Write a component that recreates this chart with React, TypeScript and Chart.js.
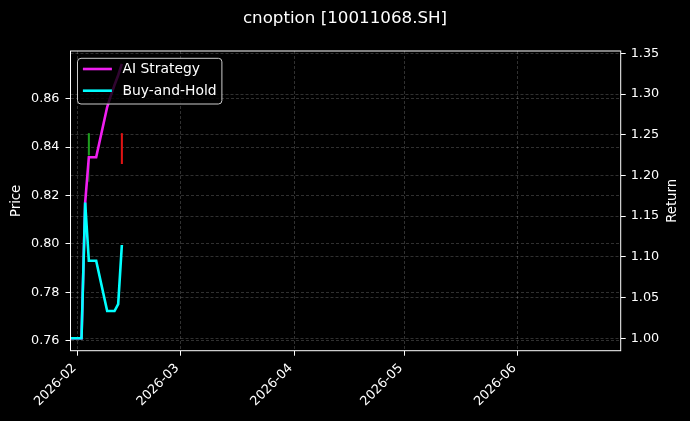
import React, { useEffect, useRef } from "react";
import { Chart, registerables } from "chart.js";

Chart.register(...registerables);

// ---- data ----
const titleText = "cnoption [10011068.SH]";
const dates = [
  "2026-01-30", "2026-02-02", "2026-02-03", "2026-02-04", "2026-02-05", "2026-02-06",
  "2026-02-09", "2026-02-10", "2026-02-11", "2026-02-12", "2026-02-13",
];
const aiStrategy = [1.0, 1.0, 1.1666, 1.2224, 1.2224, 1.2224, 1.284, 1.298, 1.311, 1.323, 1.337];
const buyAndHold = [1.0, 1.0, 1.1666, 1.0953, 1.0953, 1.0953, 1.0335, 1.0335, 1.0335, 1.042, 1.1146];

const candleDates = ["2026-02-04", "2026-02-13"];
const candleOpen = [0.8367, 0.8457];
const candleHigh = [0.8457, 0.8457];
const candleLow = [0.8257, 0.833];
const candleClose = [0.8457, 0.833];

const xTickLabels = ["2026-02", "2026-03", "2026-04", "2026-05", "2026-06"];
const priceTicks = [0.76, 0.78, 0.8, 0.82, 0.84, 0.86];
const returnTicks = [1.0, 1.05, 1.1, 1.15, 1.2, 1.25, 1.3, 1.35];
const xRange = ["2026-01-30", "2026-06-29"];
const priceRange = [0.7559, 0.8797];
const returnRange = [0.9848, 1.3528];

// ---- helpers ----
const toDay = (s: string) => {
  const [y, m, d] = s.split("-").map(Number);
  return Date.UTC(y, m - 1, d) / 86400000;
};

const FONT = "DejaVu Sans";
const gridColor = "rgba(255,255,255,0.24)";
const UP = "#1e9e1e";
const DOWN = "#e01414";

export default function App() {
  const ref = useRef<HTMLCanvasElement | null>(null);

  useEffect(() => {
    if (!ref.current) return;

    const isUp = candleDates.map((_, i) => candleClose[i] >= candleOpen[i]);
    const candleColors = isUp.map((u) => (u ? UP : DOWN));

    const decor = {
      id: "decor",
      beforeDraw(chart: any) {
        const { ctx } = chart;
        ctx.save();
        ctx.fillStyle = "#000";
        ctx.fillRect(0, 0, chart.width, chart.height);
        ctx.restore();
      },
      afterDraw(chart: any) {
        const { ctx, chartArea: ca } = chart;
        ctx.save();
        // frame
        ctx.strokeStyle = "#fff";
        ctx.lineWidth = 1;
        ctx.setLineDash([]);
        ctx.strokeRect(ca.left, ca.top, ca.right - ca.left, ca.bottom - ca.top);
        // title
        ctx.fillStyle = "#fff";
        ctx.font = `16.7px "${FONT}"`;
        ctx.textAlign = "center";
        ctx.textBaseline = "middle";
        ctx.fillText(titleText, chart.width / 2, 18.5);
        // axis titles
        ctx.font = `13.2px "${FONT}"`;
        const midY = (ca.top + ca.bottom) / 2;
        ctx.save();
        ctx.translate(16.7, midY);
        ctx.rotate(-Math.PI / 2);
        ctx.fillText("Price", 0, 0);
        ctx.restore();
        ctx.save();
        ctx.translate(672.5, midY);
        ctx.rotate(-Math.PI / 2);
        ctx.fillText("Return", 0, 0);
        ctx.restore();
        // legend
        const lx = ca.left + 7, ly = ca.top + 7.3, lw = 144.4, lh = 45.7, r = 3.5;
        ctx.beginPath();
        ctx.moveTo(lx + r, ly);
        ctx.lineTo(lx + lw - r, ly);
        ctx.arcTo(lx + lw, ly, lx + lw, ly + r, r);
        ctx.lineTo(lx + lw, ly + lh - r);
        ctx.arcTo(lx + lw, ly + lh, lx + lw - r, ly + lh, r);
        ctx.lineTo(lx + r, ly + lh);
        ctx.arcTo(lx, ly + lh, lx, ly + lh - r, r);
        ctx.lineTo(lx, ly + r);
        ctx.arcTo(lx, ly, lx + r, ly, r);
        ctx.closePath();
        ctx.fillStyle = "rgba(0,0,0,0.8)";
        ctx.fill();
        ctx.strokeStyle = "rgba(204,204,204,1)";
        ctx.lineWidth = 1;
        ctx.stroke();
        const items = [
          { label: "AI Strategy", color: "#f01ef0", y: ly + 10.7 },
          { label: "Buy-and-Hold", color: "#00ffff", y: ly + 32.4 },
        ];
        ctx.font = `13.9px "${FONT}"`;
        ctx.textAlign = "left";
        ctx.textBaseline = "middle";
        for (const it of items) {
          ctx.strokeStyle = it.color;
          ctx.lineWidth = 2.6;
          ctx.beginPath();
          ctx.moveTo(lx + 5.4, it.y);
          ctx.lineTo(lx + 34.4, it.y);
          ctx.stroke();
          ctx.fillStyle = "#fff";
          ctx.fillText(it.label, lx + 45, it.y + 0.5);
        }
        ctx.restore();
      },
    };

    const tickFont = { family: FONT, size: 12.8 };

    const chart = new Chart(ref.current, {
      type: "line",
      data: {
        datasets: [
          {
            label: "Buy-and-Hold",
            type: "line",
            data: dates.map((d, i) => ({ x: toDay(d), y: buyAndHold[i] })),
            borderColor: "#00ffff",
            borderWidth: 2.6,
            pointRadius: 0,
            tension: 0,
            yAxisID: "yRet",
            order: 0,
          },
          {
            label: "AI Strategy",
            type: "line",
            data: dates.map((d, i) => ({ x: toDay(d), y: aiStrategy[i] })),
            borderColor: "#f01ef0",
            borderWidth: 2.6,
            pointRadius: 0,
            tension: 0,
            yAxisID: "yRet",
            order: 1,
          },
          {
            label: "body",
            type: "bar",
            data: candleDates.map((d, i) => ({
              x: toDay(d),
              y: [Math.min(candleOpen[i], candleClose[i]), Math.max(candleOpen[i], candleClose[i])],
            })),
            backgroundColor: candleColors,
            borderWidth: 0,
            grouped: false,
            maxBarThickness: 2,
            yAxisID: "yPrice",
            order: 2,
          } as any,
          {
            label: "wick",
            type: "bar",
            data: candleDates.map((d, i) => ({ x: toDay(d), y: [candleLow[i], candleHigh[i]] })),
            backgroundColor: candleColors.map((c) => c + "bb"),
            borderWidth: 0,
            grouped: false,
            maxBarThickness: 1.2,
            yAxisID: "yPrice",
            order: 3,
          } as any,
        ],
      },
      options: {
        responsive: false,
        animation: false,
        events: [],
        layout: { padding: { top: 51, left: 0, right: 0, bottom: 0 } },
        plugins: {
          legend: { display: false },
          title: { display: false },
          tooltip: { enabled: false },
        },
        scales: {
          x: {
            type: "linear",
            min: toDay(xRange[0]),
            max: toDay(xRange[1]),
            offset: false,
            afterBuildTicks: (s: any) => {
              s.ticks = xTickLabels.map((m) => ({ value: toDay(m + "-01") }));
            },
            afterFit: (s: any) => {
              s.height = 421 - 350.7;
            },
            ticks: {
              autoSkip: false,
              color: "#fff",
              font: tickFont,
              minRotation: 45,
              maxRotation: 45,
              padding: 5,
              labelOffset: -3.5,
              callback: (_v: any, i: number) => xTickLabels[i],
            },
            grid: {
              color: gridColor,
              lineWidth: 0.8,
              tickColor: "#fff",
              tickLength: 5,
              tickWidth: 1,
              tickBorderDash: [],
              borderDash: [3, 2],
              offset: false,
            } as any,
            border: { display: false, dash: [3, 2] },
          },
          yPrice: {
            type: "linear",
            position: "left",
            min: priceRange[0],
            max: priceRange[1],
            afterBuildTicks: (s: any) => {
              s.ticks = priceTicks.map((v) => ({ value: v }));
            },
            afterFit: (s: any) => {
              s.width = 70.5;
            },
            ticks: {
              color: "#fff",
              font: tickFont,
              padding: 6,
              callback: (v: any) => Number(v).toFixed(2),
            },
            grid: {
              color: gridColor,
              lineWidth: 0.8,
              tickColor: "#fff",
              tickLength: 5,
              tickWidth: 1,
              tickBorderDash: [],
              borderDash: [3, 2],
            } as any,
            border: { display: false, dash: [3, 2] },
          },
          yRet: {
            type: "linear",
            position: "right",
            min: returnRange[0],
            max: returnRange[1],
            afterBuildTicks: (s: any) => {
              s.ticks = returnTicks.map((v) => ({ value: v }));
            },
            afterFit: (s: any) => {
              s.width = 690 - 620.7;
            },
            ticks: {
              color: "#fff",
              font: tickFont,
              padding: 5,
              callback: (v: any) => Number(v).toFixed(2),
            },
            grid: {
              color: gridColor,
              lineWidth: 0.8,
              tickColor: "#fff",
              tickLength: 5,
              tickWidth: 1,
              tickBorderDash: [],
              borderDash: [3, 2],
            } as any,
            border: { display: false, dash: [3, 2] },
          },
        },
      } as any,
      plugins: [decor],
    });

    return () => chart.destroy();
  }, []);

  return (
    <div style={{ position: "fixed", left: 0, top: 0, width: 690, height: 421, background: "#000" }}>
      <canvas ref={ref} width={690} height={421} style={{ display: "block", width: 690, height: 421 }} />
    </div>
  );
}
